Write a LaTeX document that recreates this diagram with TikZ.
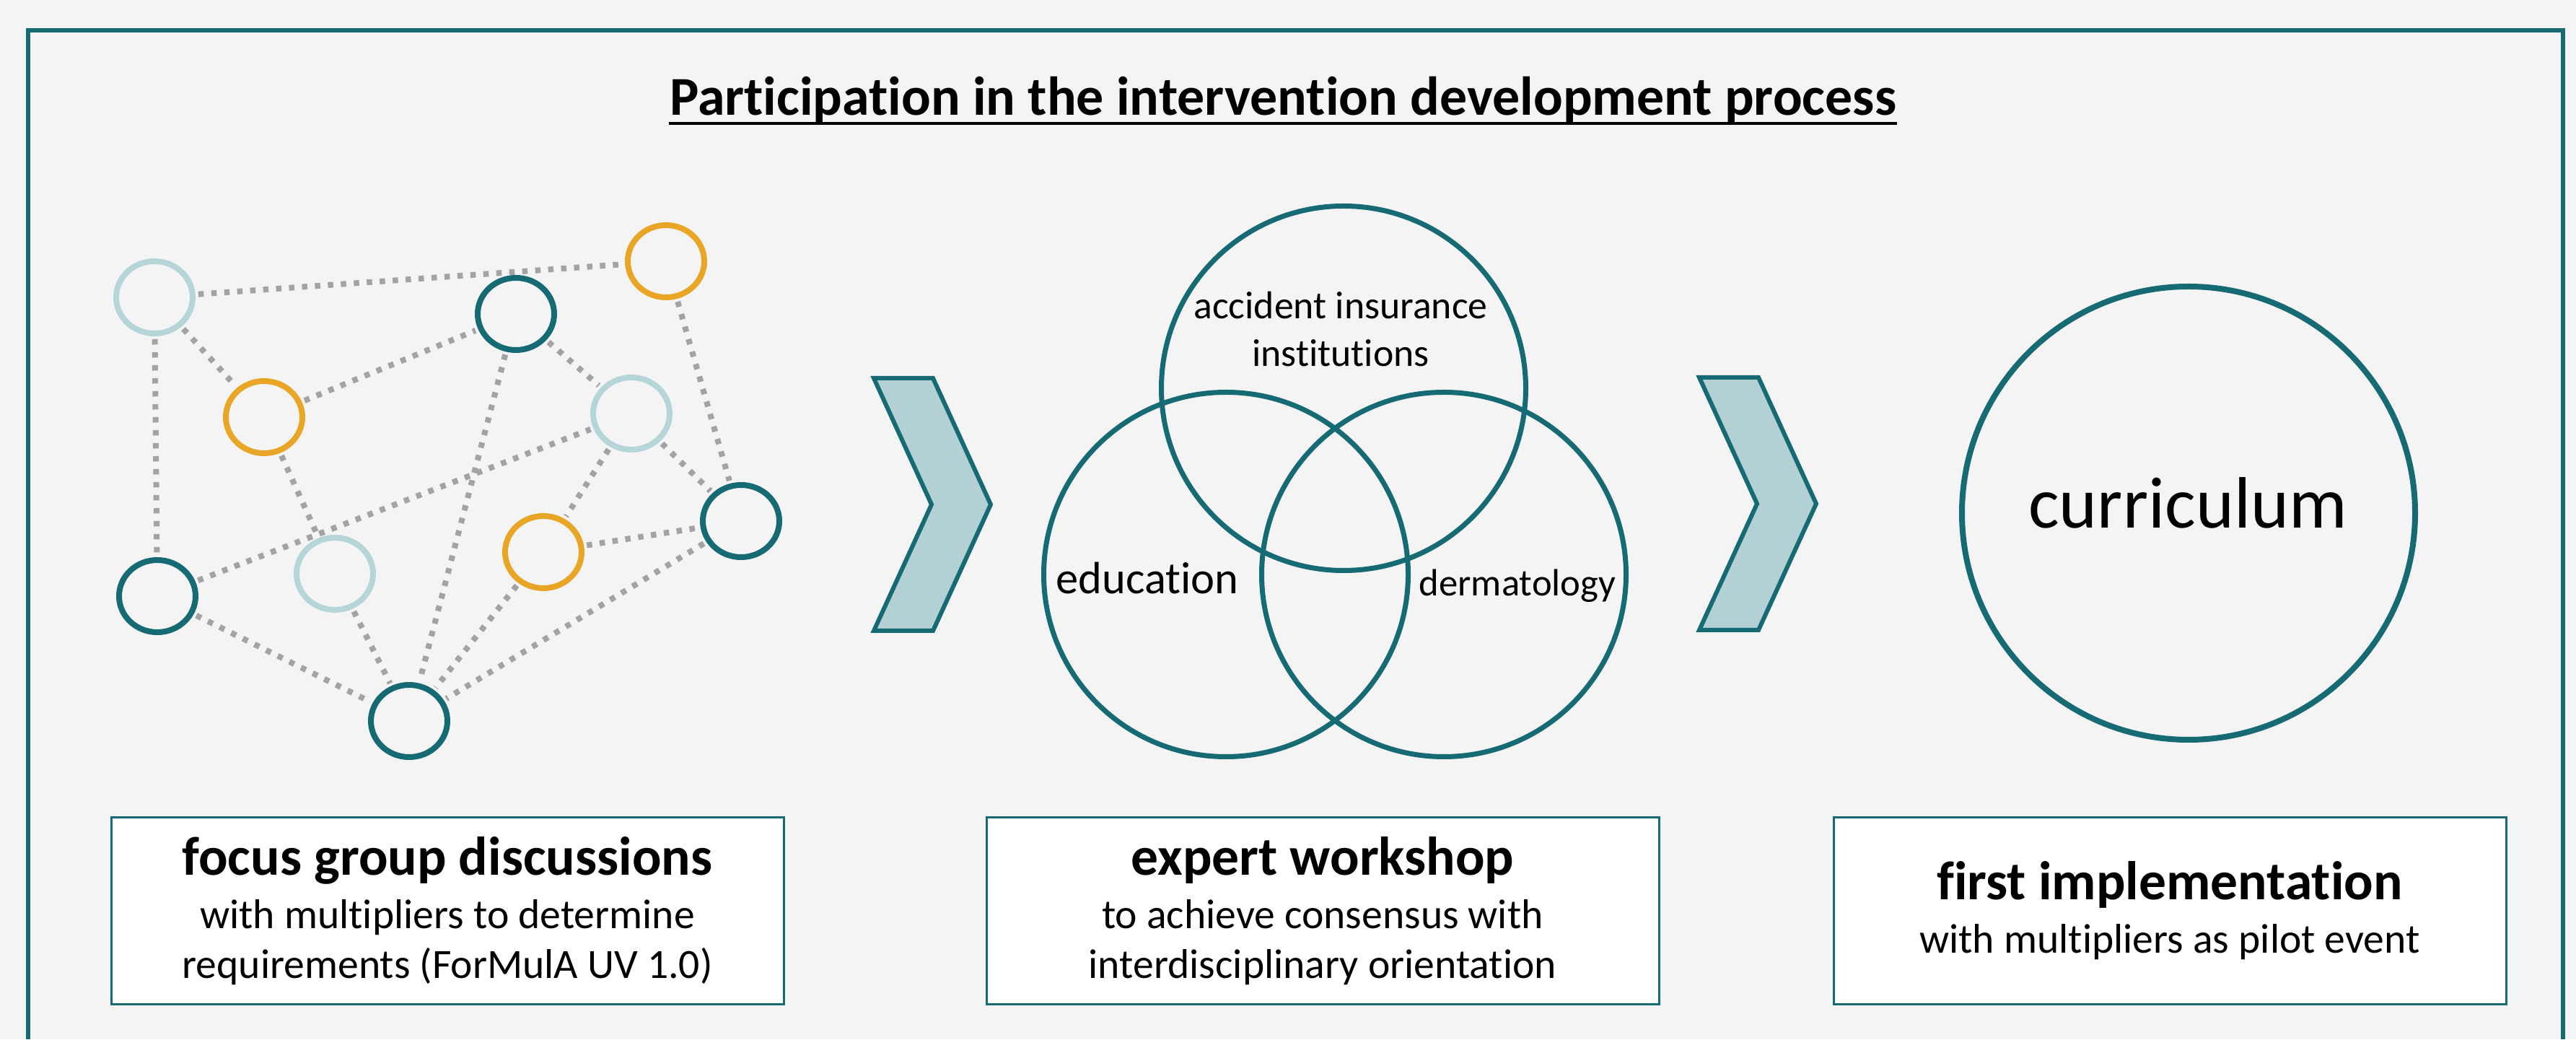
\documentclass[tikz,border=0pt]{standalone}
\usepackage{fontspec}
\setmainfont{Carlito}[Ligatures=NoCommon]
\usetikzlibrary{shapes.geometric}
\definecolor{tealdark}{RGB}{21,106,115}
\definecolor{ringblue}{RGB}{181,213,217}
\definecolor{ringgold}{RGB}{233,166,38}
\definecolor{chevfill}{RGB}{179,208,212}
\definecolor{dotgray}{RGB}{163,163,163}
\definecolor{pagebg}{RGB}{244,244,244}
\newcommand\boxhead[1]{{\bfseries\fontsize{21.5}{25}\selectfont #1}}

\begin{document}
\begin{tikzpicture}[
  ring/.style={ellipse,draw,line width=0.08cm,minimum width=1.06cm,minimum height=1cm,inner sep=0pt},
  tealring/.style={ring,draw=tealdark},
  goldring/.style={ring,draw=ringgold},
  palering/.style={ring,draw=ringblue},
  link/.style={draw=dotgray,line width=0.08cm,dash pattern=on 0.075cm off 0.105cm,shorten <=0.04cm,shorten >=0.04cm},
  venn/.style={circle,draw=tealdark,line width=0.07cm,minimum size=5.05cm,inner sep=0pt},
  chev/.style={draw=tealdark,fill=chevfill,line width=0.06cm},
  stepbox/.style={draw=tealdark,fill=white,line width=0.03cm,minimum width=9.32cm,minimum height=2.58cm,align=center,inner sep=0pt,font=\fontsize{16.4}{19.6}\selectfont}
]
%%Background and frame
\useasboundingbox (0,0) rectangle (35.7,14.4);
\fill[pagebg] (0,0) rectangle (35.7,14.4);
\draw[tealdark,line width=0.06cm] (0.39,0) -- (0.39,13.98) -- (35.52,13.98) -- (35.52,0);

%%Title
\node[inner sep=0pt,font=\bfseries\fontsize{21.6}{25}\selectfont,anchor=base] (title) at (17.78,12.80) {Participation in the intervention development process};
\draw[line width=0.04cm] ([yshift=-1.15mm]title.base west) -- ([yshift=-1.15mm]title.base east);

%%Network
\node[palering] (pale1) at (2.14,10.28) {};
\node[goldring] (gold1) at (9.23,10.78) {};
\node[tealring] (teal1) at (7.15,10.05) {};
\node[goldring] (gold2) at (3.66,8.62) {};
\node[palering] (pale2) at (8.75,8.67) {};
\node[tealring] (teal2) at (10.27,7.18) {};
\node[goldring] (gold3) at (7.53,6.75) {};
\node[palering] (pale3) at (4.64,6.45) {};
\node[tealring] (teal3) at (2.18,6.14) {};
\node[tealring] (teal4) at (5.67,4.41) {};

\draw[link] (pale1) -- (gold1);
\draw[link] (pale1) -- (gold2);
\draw[link] (pale1) -- (teal3);
\draw[link] (gold2) -- (teal1);
\draw[link] (gold2) -- (pale3);
\draw[link] (teal1) -- (pale2);
\draw[link] (teal1) -- (teal4);
\draw[link] (gold1) -- (teal2);
\draw[link] (teal3) -- (pale2);
\draw[link] (pale2) -- (gold3);
\draw[link] (pale2) -- (teal2);
\draw[link] (gold3) -- (teal2);
\draw[link] (teal3) -- (teal4);
\draw[link] (pale3) -- (teal4);
\draw[link] (gold3) -- (teal4);
\draw[link] (teal2) -- (teal4);

%%Chevrons
\draw[chev] (12.11,9.16) -- ++(0.82,0) -- ++(0.80,-1.75) -- ++(-0.80,-1.75) -- ++(-0.82,0) -- ++(0.80,1.75) -- cycle;
\draw[chev] (23.55,9.17) -- ++(0.82,0) -- ++(0.80,-1.75) -- ++(-0.80,-1.75) -- ++(-0.82,0) -- ++(0.80,1.75) -- cycle;

%%Venn
\node[venn] (insurance) at (18.62,9.02) {};
\node[venn] (education) at (16.99,6.44) {};
\node[venn] (dermatology) at (20.01,6.44) {};
\node[align=center,font=\fontsize{15.3}{18.8}\selectfont] (insurancetext) at (18.58,9.84) {accident insurance\\institutions};
\node[font=\fontsize{17.8}{21}\selectfont] (educationtext) at (15.90,6.39) {education};
\node[font=\fontsize{15}{18}\selectfont] (dermatologytext) at (21.03,6.28) {dermatology};

%%Curriculum
\node[circle,draw=tealdark,line width=0.08cm,minimum size=6.28cm,inner sep=0pt] (curriculum) at (30.33,7.29) {};
\node[font=\fontsize{28.7}{32}\selectfont] (curriculumtext) at (30.32,7.43) {curriculum};

%%Steps
\node[stepbox] (focus) at (6.20,1.78) {\boxhead{focus group discussions}\\[1.4pt] with multipliers to determine\\ requirements (ForMulA UV 1.0)};
\node[stepbox] (workshop) at (18.33,1.78) {\boxhead{expert workshop}\\[1.4pt] to achieve consensus with\\ interdisciplinary orientation};
\node[stepbox] (pilot) at (30.07,1.78) {\boxhead{first implementation}\\[1.4pt] with multipliers as pilot event};
\end{tikzpicture}
\end{document}
